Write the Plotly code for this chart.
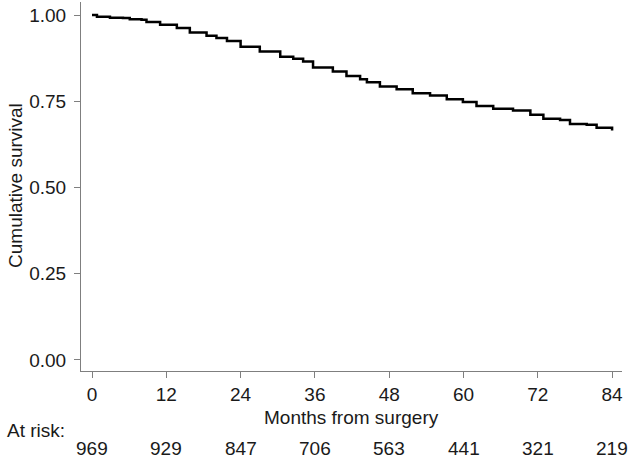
import plotly.graph_objects as go

# Kaplan-Meier estimate (months, survival)
months = [0, 0.8, 2.9, 5.0, 6.1, 8.0, 8.8, 11.0, 13.7, 15.8, 18.5, 20.1, 21.8, 24.0,
          27.1, 30.4, 32.5, 34.1, 35.7, 38.9, 41.1, 43.3, 44.4, 46.5, 49.2, 51.8,
          54.6, 57.3, 59.9, 62.1, 64.8, 68.0, 70.8, 72.9, 75.6, 77.2, 79.9, 81.5, 84.0]
survival = [1.0, 0.995, 0.992, 0.991, 0.988, 0.986, 0.980, 0.972, 0.962, 0.949, 0.940,
            0.933, 0.925, 0.908, 0.894, 0.879, 0.873, 0.865, 0.848, 0.836, 0.823, 0.814,
            0.805, 0.793, 0.785, 0.773, 0.767, 0.756, 0.748, 0.736, 0.728, 0.723, 0.711,
            0.699, 0.696, 0.684, 0.682, 0.673, 0.665]

x_ticks = [0, 12, 24, 36, 48, 60, 72, 84]
y_ticks = [0, 0.25, 0.5, 0.75, 1.0]
y_tick_labels = ["0.00", "0.25", "0.50", "0.75", "1.00"]
at_risk = [969, 929, 847, 706, 563, 441, 321, 219]

FONT = "Liberation Sans, Arial, Helvetica, sans-serif"
TXT = "#1a1a1a"
AX = "#7f7f7f"

fig = go.Figure()
fig.add_trace(go.Scatter(x=months, y=survival, mode="lines",
                         line=dict(color="black", width=2.5, shape="hv"),
                         showlegend=False, hoverinfo="skip"))

annotations = []
for t, n in zip(x_ticks, at_risk):
    annotations.append(dict(x=t, xref="x", y=-0.209, yref="paper", text=str(n),
                            showarrow=False, xanchor="center", yanchor="middle",
                            font=dict(family=FONT, size=19, color=TXT)))
annotations.append(dict(x=-0.1405, xref="paper", y=-0.16, yref="paper", text="At risk:",
                        showarrow=False, xanchor="left", yanchor="middle",
                        font=dict(family=FONT, size=19, color=TXT)))
annotations.append(dict(x=0.5, xref="paper", y=-0.125, yref="paper",
                        text="Months from surgery", showarrow=False,
                        xanchor="center", yanchor="middle",
                        font=dict(family=FONT, size=19, color=TXT)))
annotations.append(dict(x=-0.121, xref="paper", y=0.503, yref="paper",
                        text="Cumulative survival", showarrow=False, textangle=-90,
                        xanchor="center", yanchor="middle",
                        font=dict(family=FONT, size=19, color=TXT)))

fig.update_layout(
    width=629, height=458,
    margin=dict(l=81, r=7, t=2, b=87, pad=0, autoexpand=False),
    paper_bgcolor="white", plot_bgcolor="white",
    font=dict(family=FONT, size=19, color=TXT),
    annotations=annotations,
    xaxis=dict(range=[-1.777, 85.6], tickvals=x_ticks, ticktext=[str(v) for v in x_ticks],
               automargin=False,
               showgrid=False, zeroline=False, showline=True, linecolor=AX, linewidth=1,
               ticks="outside", ticklen=6, tickcolor=AX, tickwidth=1,
               tickfont=dict(family=FONT, size=19, color=TXT)),
    yaxis=dict(range=[-0.0319, 1.0377], tickvals=y_ticks, ticktext=y_tick_labels,
               automargin=False,
               showgrid=False, zeroline=False, showline=True, linecolor=AX, linewidth=1,
               ticks="outside", ticklen=6, tickcolor=AX, tickwidth=1,
               ticklabelstandoff=4,
               tickfont=dict(family=FONT, size=19, color=TXT)),
)

fig.write_html("out.html", config={"displayModeBar": False},
               post_script="document.body.style.margin='0';document.body.style.padding='0';")
